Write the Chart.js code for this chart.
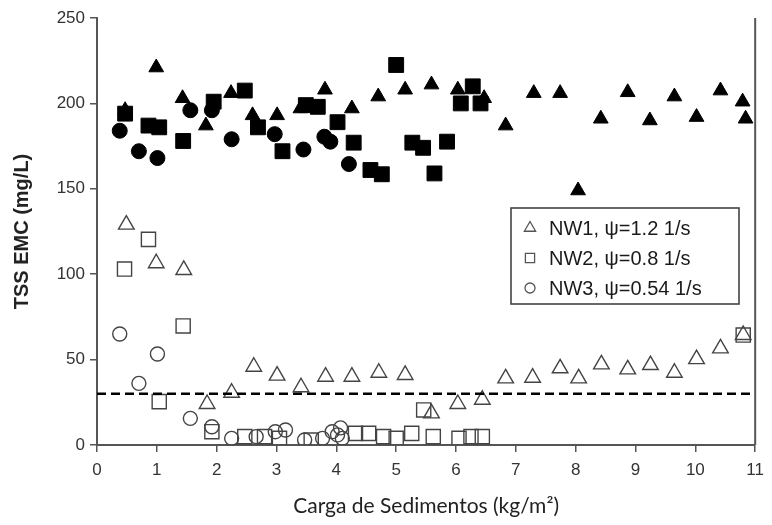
<!DOCTYPE html>
<html><head><meta charset="utf-8">
<script src="https://cdn.jsdelivr.net/npm/chart.js@4/dist/chart.umd.min.js"></script>
<style>html,body{margin:0;padding:0;background:#fff;}#wrap{width:772px;height:525px;}</style>
</head><body><div id="wrap"><canvas id="c" width="772" height="525"></canvas></div>
<script>
// ---- data ----
const xTicks = [0,1,2,3,4,5,6,7,8,9,10,11];
const yTicks = [0,50,100,150,200,250];
const threshold = 30;
const seriesLabels = ["NW1, \u03c8=1.2 1/s", "NW2, \u03c8=0.8 1/s", "NW3, \u03c8=0.54 1/s"];

// open markers (legend series)
const nw1 = [[0.49,129],[0.99,106.4],[1.45,102.5],[1.84,24],[2.25,30.6],[2.62,45.8],[3.01,40.6],[3.41,33.8],[3.82,40],[4.26,40],[4.71,42.3],[5.15,41],[5.59,18.5],[6.03,24],[6.44,26.5],[6.83,39],[7.28,39.4],[7.74,44.9],[8.05,39],[8.43,47.2],[8.87,44.3],[9.25,46.8],[9.65,42.3],[10.02,50.3],[10.42,56.6],[10.8,64.4]];
const nw2 = [[0.46,103],[0.86,120.4],[1.04,25.4],[1.44,69.7],[1.92,7.8],[2.47,4.9],[2.8,4.9],[3.05,3.9],[3.58,2.9],[4.32,6.8],[4.54,6.8],[4.79,4.9],[5.0,3.9],[5.26,6.8],[5.46,20.5],[5.62,4.9],[6.05,3.9],[6.25,4.9],[6.44,4.9],[10.8,64.4]];
const nw3 = [[0.38,65],[0.70,36.1],[1.01,53.3],[1.56,15.6],[1.92,10.7],[2.25,3.9],[2.66,4.9],[2.98,7.8],[3.15,8.8],[3.47,2.9],[3.77,3.9],[3.93,7.8],[4.02,5.9],[4.07,10],[4.1,3.9]];

// filled markers
const nw1Filled = [[0.47,196],[0.99,221],[1.43,203],[1.82,187],[2.24,206],[2.6,193],[3.01,193],[3.4,197],[3.81,208],[4.26,197],[4.7,204],[5.15,208],[5.59,211],[6.03,208],[6.47,203],[6.83,187],[7.3,206],[7.74,206],[8.04,149],[8.42,191],[8.87,206.5],[9.24,190],[9.65,204],[10.02,192],[10.42,207.5],[10.79,201],[10.84,191]];
const nw2Filled = [[0.47,194],[0.86,187],[1.04,186],[1.44,178],[1.95,201],[2.47,207.5],[2.69,186],[3.1,172],[3.49,199],[3.69,198],[4.02,189],[4.29,177],[4.57,161],[4.76,158.5],[5.0,222.5],[5.27,177],[5.45,174],[5.64,159],[5.85,177.6],[6.08,200],[6.28,210],[6.41,200]];
const nw3Filled = [[0.38,184],[0.70,172],[1.01,168],[1.56,196],[1.92,196],[2.25,179],[2.97,182],[3.45,173],[3.8,180.5],[3.9,177.6],[4.21,164.5]];

const toPts = a => a.map(p => ({x:p[0], y:p[1]}));

const legendBox = {
  id: 'legendBox',
  afterDraw(chart, args, o) {
    const ctx = chart.ctx;
    ctx.save();
    ctx.strokeStyle = '#444';
    ctx.lineWidth = 1.6;
    ctx.strokeRect(o.left, o.top, o.width, o.height);
    const styles = ['triangle','rect','circle'];
    ctx.textBaseline = 'middle';
    for (let i = 0; i < seriesLabels.length; i++) {
      const y = o.rowY0 + i * o.rowGap;
      ctx.fillStyle = 'rgba(0,0,0,0)';
      ctx.strokeStyle = '#555';
      ctx.lineWidth = 1.3;
      Chart.helpers.drawPoint(ctx, {pointStyle: styles[i], radius: o.markR[i], borderWidth: 1.3}, o.markX, y);
      ctx.font = o.font;
      ctx.fillStyle = '#1a1a1a';
      ctx.fillText(seriesLabels[i], o.textX, y + 1);
    }
    ctx.restore();
  }
};

const rightBorder = {
  id: 'rightBorder',
  afterDraw(chart) {
    const {ctx, chartArea:a} = chart;
    ctx.save();
    ctx.strokeStyle = '#555';
    ctx.lineWidth = 2;
    ctx.beginPath();
    ctx.moveTo(a.right, a.top);
    ctx.lineTo(a.right, a.bottom);
    ctx.stroke();
    ctx.restore();
  }
};

const openStyle = (label, data, style, r) => ({
  label, data: toPts(data), pointStyle: style, pointRadius: r, pointHoverRadius: r,
  borderColor: '#444', backgroundColor: 'rgba(0,0,0,0)', pointBorderWidth: 1.4, showLine: false
});
const filledStyle = (label, data, style, r) => ({
  label, data: toPts(data), pointStyle: style, pointRadius: r, pointHoverRadius: r,
  borderColor: '#000', backgroundColor: '#000', pointBorderWidth: 1, showLine: false
});

new Chart(document.getElementById('c'), {
  type: 'scatter',
  data: {
    datasets: [
      {type:'line', label:'limite', data:[{x:xTicks[0], y:threshold},{x:xTicks[xTicks.length-1], y:threshold}],
       borderColor:'#000', borderWidth:2.5, borderDash:[9,5], pointRadius:0, fill:false},
      openStyle(seriesLabels[0], nw1, 'triangle', 9),
      openStyle(seriesLabels[1], nw2, 'rect', 10),
      openStyle(seriesLabels[2], nw3, 'circle', 7),
      filledStyle('NW1 (cheio)', nw1Filled, 'triangle', 8.5),
      filledStyle('NW2 (cheio)', nw2Filled, 'rect', 10.5),
      filledStyle('NW3 (cheio)', nw3Filled, 'circle', 7.5)
    ]
  },
  options: {
    responsive: false,
    animation: false,
    layout: {padding: {top: 18, right: 10, left: 0, bottom: 0}},
    plugins: {
      legend: {display: false},
      tooltip: {enabled: false},
      legendBox: {left: 511, top: 208, width: 228, height: 96, markX: 530, textX: 549, rowY0: 228, rowGap: 30,
                  markR: [6.5, 6.5, 5], font: '20px Arial, "Liberation Sans", sans-serif'}
    },
    scales: {
      x: {
        type: 'linear', min: 0, max: 11,
        afterBuildTicks: s => { s.ticks = xTicks.map(v => ({value: v})); },
        afterFit: s => { s.height = 80; },
        border: {display: true, color: '#555', width: 2},
        grid: {display: true, drawOnChartArea: false, drawTicks: true, tickLength: 7, color: '#555', lineWidth: 1.5},
        ticks: {color: '#333', padding: 8, maxRotation: 0, font: {family: 'Arial, "Liberation Sans", sans-serif', size: 17}},
        title: {display: true, text: 'Carga de Sedimentos (kg/m\u00b2)', color: '#222',
                font: {family: 'Lato, "Open Sans", sans-serif', size: 21}, padding: {top: 0, bottom: 6}}
      },
      y: {
        type: 'linear', min: 0, max: 250,
        afterBuildTicks: s => { s.ticks = yTicks.map(v => ({value: v})); },
        afterFit: s => { s.width = 97; },
        border: {display: true, color: '#555', width: 2},
        grid: {display: true, drawOnChartArea: false, drawTicks: true, tickLength: 7, color: '#555', lineWidth: 1.5},
        ticks: {color: '#333', padding: 5, font: {family: 'Arial, "Liberation Sans", sans-serif', size: 17}},
        title: {display: true, text: 'TSS EMC (mg/L)', color: '#222',
                font: {family: 'Arial, "Liberation Sans", sans-serif', size: 20, weight: 'bold'}, padding: {top: 10, bottom: 0}}
      }
    }
  },
  plugins: [legendBox, rightBorder]
});
</script>
</body></html>
